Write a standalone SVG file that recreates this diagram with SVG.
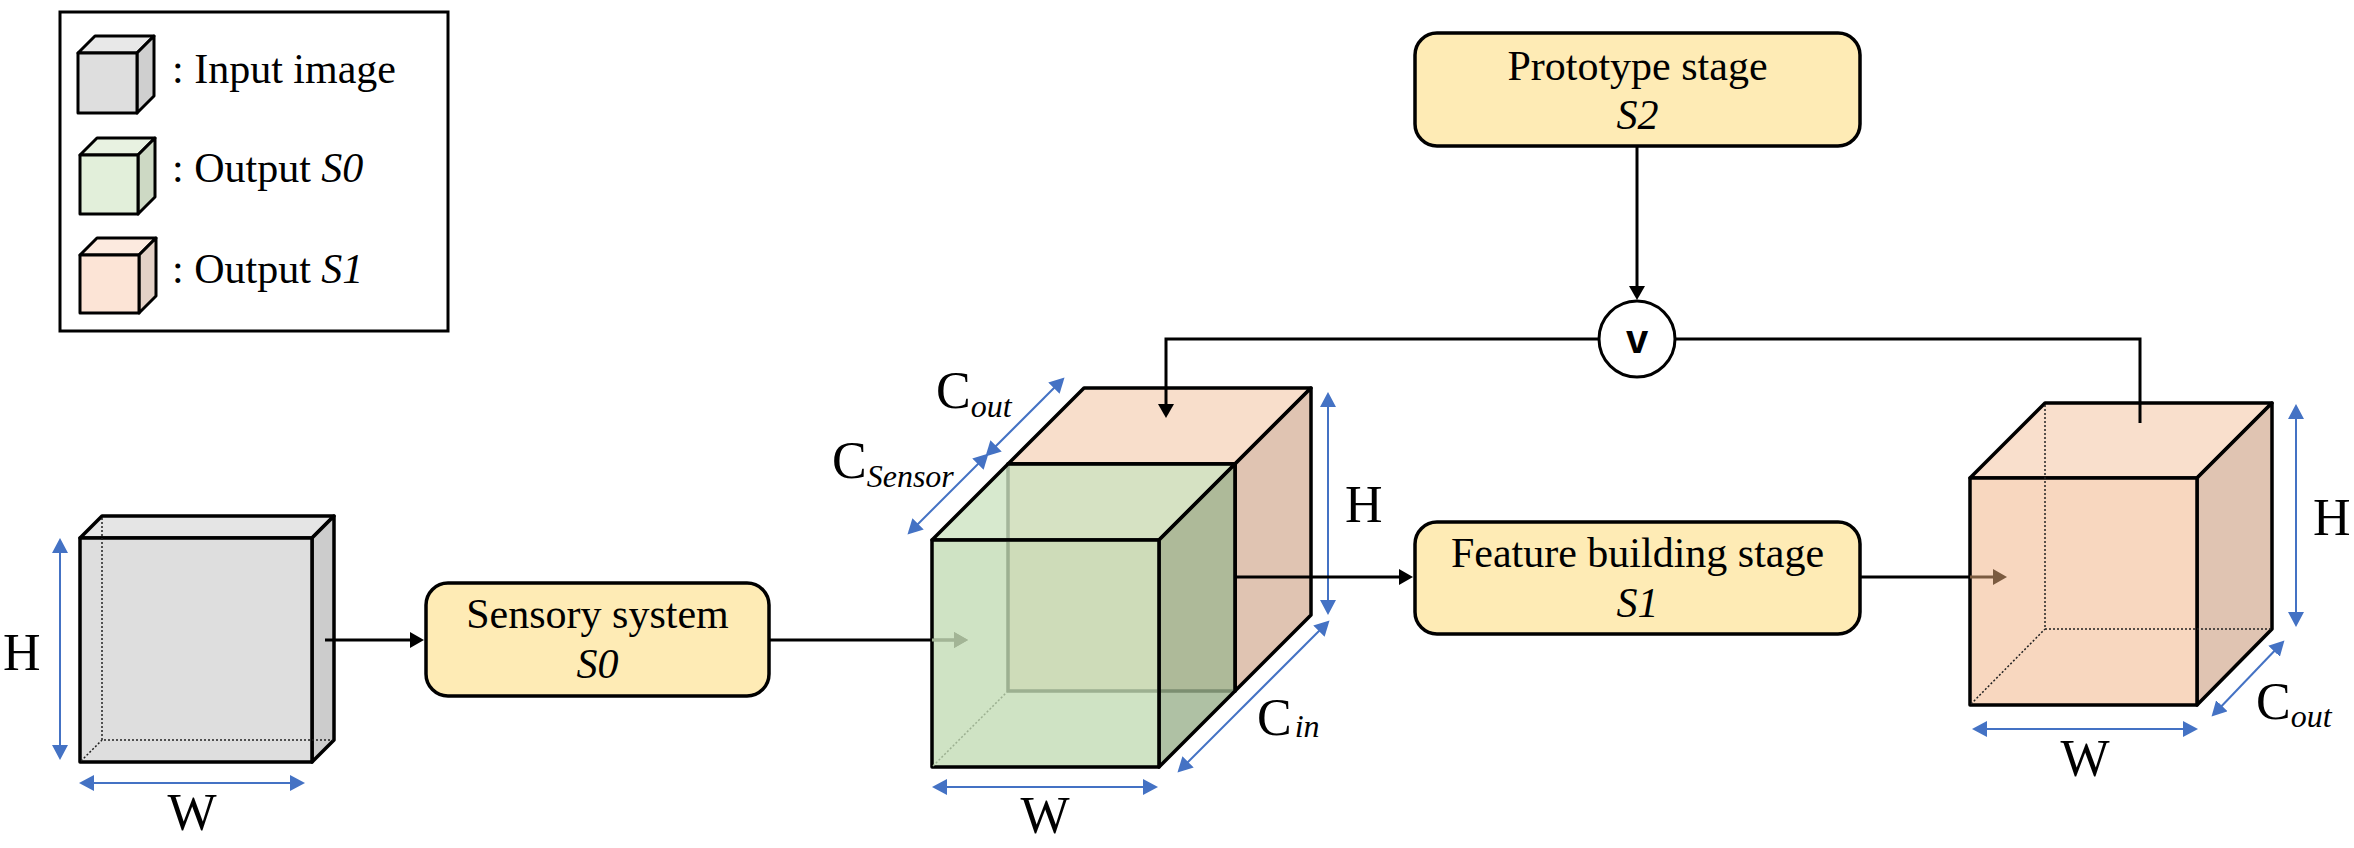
<svg xmlns="http://www.w3.org/2000/svg" width="2354" height="848" viewBox="0 0 2354 848">
<style>
  text { font-family: "Liberation Serif", "Times New Roman", serif; fill: #000; }
  .t42 { font-size: 42px; }
  .lbl { font-size: 52px; }
  .sub { font-size: 32px; font-style: italic; }
  .it { font-style: italic; }
  .edge { stroke: #000; stroke-width: 3.5; stroke-linejoin: round; }
  .ledge { stroke: #000; stroke-width: 3; stroke-linejoin: round; }
  .box { fill: #FEEBB5; stroke: #000; stroke-width: 3.5; }
  .conn { fill: none; stroke: #000; stroke-width: 3; }
  .dim { fill: none; stroke: #4472C4; stroke-width: 2; marker-start: url(#blue); marker-end: url(#blue); }
  .dot { fill: none; stroke: #222; stroke-width: 1.5; stroke-dasharray: 2 2; }
</style>
<defs>
  <marker id="blk" viewBox="0 0 14 16" refX="8" refY="8" markerWidth="14" markerHeight="16" markerUnits="userSpaceOnUse" orient="auto">
    <path d="M0,0 L14,8 L0,16 z" fill="#000"/>
  </marker>
  <marker id="fadeg" viewBox="0 0 14 16" refX="8" refY="8" markerWidth="14" markerHeight="16" markerUnits="userSpaceOnUse" orient="auto">
    <path d="M0,0 L14,8 L0,16 z" fill="#A3B596"/>
  </marker>
  <marker id="brown" viewBox="0 0 14 16" refX="8" refY="8" markerWidth="14" markerHeight="16" markerUnits="userSpaceOnUse" orient="auto">
    <path d="M0,0 L14,8 L0,16 z" fill="#7B5B40"/>
  </marker>
  <marker id="blue" viewBox="0 0 15 16" refX="10" refY="8" markerWidth="15" markerHeight="16" markerUnits="userSpaceOnUse" orient="auto-start-reverse">
    <path d="M0,0 L15,8 L0,16 z" fill="#4472C4"/>
  </marker>
</defs>
<rect width="2354" height="848" fill="#fff"/>

<g id="legend">
  <rect x="60" y="12" width="388" height="319" fill="#fff" stroke="#000" stroke-width="3"/>
  <g class="ledge">
    <polygon points="78,53 95,36 154,36 137,53" fill="#E8E8E8"/>
    <polygon points="137,53 154,36 154,96 137,113" fill="#CFCFCF"/>
    <rect x="78" y="53" width="59" height="60" fill="#DEDEDE"/>
    <polygon points="80,155 97,138 155,138 138,155" fill="#E8F2E1"/>
    <polygon points="138,155 155,138 155,197 138,214" fill="#CDD9C4"/>
    <rect x="80" y="155" width="58" height="59" fill="#E2EFDA"/>
    <polygon points="80,255 97,238 156,238 139,255" fill="#FCEADF"/>
    <polygon points="139,255 156,238 156,296 139,313" fill="#E3D1C6"/>
    <rect x="80" y="255" width="59" height="58" fill="#FCE4D6"/>
  </g>
  <text class="t42" x="172" y="83">: Input image</text>
  <text class="t42" x="172" y="182">: Output <tspan class="it">S0</tspan></text>
  <text class="t42" x="172" y="283">: Output <tspan class="it">S1</tspan></text>
</g>

<g id="input-cube">
  <g class="edge">
    <polygon points="80,538 102,516 334,516 312,538" fill="#E5E5E5"/>
    <polygon points="312,538 334,516 334,740 312,762" fill="#CCCCCC"/>
    <rect x="80" y="538" width="232" height="224" fill="#DEDEDE"/>
  </g>
  <path class="dot" d="M102,518 V740 H333 M81,761 L102,740"/>
  <line class="dim" x1="60" y1="543" x2="60" y2="755"/>
  <line class="dim" x1="84" y1="783" x2="300" y2="783"/>
  <text class="lbl" x="3" y="670">H</text>
  <text class="lbl" x="192" y="830" text-anchor="middle">W</text>
</g>

<g id="sensory">
  <rect class="box" x="426" y="583" width="343" height="113" rx="22"/>
  <text class="t42" x="597.5" y="628" text-anchor="middle">Sensory system</text>
  <text class="t42 it" x="597.5" y="678" text-anchor="middle">S0</text>
</g>

<g id="middle-cube">
  <g class="edge">
    <polygon points="1008,464 1084,388 1311,388 1235,464" fill="#F8DECB"/>
    <polygon points="1235,464 1311,388 1311,615 1235,691" fill="#E0C4B2"/>
    <rect x="1008" y="464" width="227" height="227" fill="#F8DAC5"/>
  </g>
  <line x1="769" y1="640" x2="932" y2="640" stroke="#000" stroke-width="3"/>
  <line x1="932" y1="640" x2="962" y2="640" stroke="#000" stroke-width="3" marker-end="url(#blk)"/>
  <g class="edge">
    <polygon points="932,540 1008,464 1235,464 1159,540" fill="#CDE4C2" fill-opacity="0.8"/>
    <polygon points="1159,540 1235,464 1235,691 1159,767" fill="#9BB18D" fill-opacity="0.8"/>
    <rect x="932" y="540" width="227" height="227" fill="#C3DCB5" fill-opacity="0.8"/>
  </g>
  <path d="M933,766 L1008,691" fill="none" stroke="#9CB091" stroke-width="1.5" stroke-dasharray="2 2"/>
  <line class="dim" x1="911" y1="531" x2="985" y2="457"/>
  <line class="dim" x1="989" y1="453" x2="1061" y2="381"/>
  <line class="dim" x1="1328" y1="397" x2="1328" y2="610"/>
  <line class="dim" x1="1326" y1="624" x2="1181" y2="769"/>
  <line class="dim" x1="937" y1="787" x2="1153" y2="787"/>
  <text class="lbl" x="936" y="408">C<tspan class="sub" dy="9">out</tspan></text>
  <text class="lbl" x="832" y="478">C<tspan class="sub" dy="9">Sensor</tspan></text>
  <text class="lbl" x="1345" y="522">H</text>
  <text class="lbl" x="1257" y="735">C<tspan class="sub" dx="3" dy="2">in</tspan></text>
  <text class="lbl" x="1045" y="833" text-anchor="middle">W</text>
</g>

<g id="prototype">
  <rect class="box" x="1415" y="33" width="445" height="113" rx="22"/>
  <text class="t42" x="1637.5" y="80" text-anchor="middle">Prototype stage</text>
  <text class="t42 it" x="1637.5" y="129" text-anchor="middle">S2</text>
</g>

<g id="or-node">
  <circle cx="1637" cy="339" r="38" fill="#fff" stroke="#000" stroke-width="3"/>
  <text x="1637" y="353" text-anchor="middle" style="font-family:'Liberation Sans',Arial,sans-serif;font-size:40px;font-weight:bold">v</text>
</g>

<g id="feature">
  <rect class="box" x="1415" y="522" width="445" height="112" rx="22"/>
  <text class="t42" x="1637.5" y="567" text-anchor="middle">Feature building stage</text>
  <text class="t42 it" x="1637.5" y="617" text-anchor="middle">S1</text>
</g>

<g id="output-cube">
  <g class="edge">
    <polygon points="1970,478 2045,403 2272,403 2197,478" fill="#F9DFCC"/>
    <polygon points="2197,478 2272,403 2272,629 2197,705" fill="#E0C4B2"/>
    <rect x="1970" y="478" width="227" height="227" fill="#F8D7BF"/>
  </g>
  <path class="dot" d="M2045,405 V629 H2271 M1971,704 L2045,629"/>
  <line class="dim" x1="2296" y1="409" x2="2296" y2="622"/>
  <line class="dim" x1="2281" y1="644" x2="2215" y2="713"/>
  <line class="dim" x1="1977" y1="729" x2="2193" y2="729"/>
  <text class="lbl" x="2313" y="535">H</text>
  <text class="lbl" x="2085" y="776" text-anchor="middle">W</text>
  <text class="lbl" x="2256" y="719">C<tspan class="sub" dy="8">out</tspan></text>
</g>

<g id="connectors">
  <path class="conn" d="M325,640 H418" marker-end="url(#blk)"/>
  <path d="M932,640 H962" fill="none" stroke="#A3B596" stroke-width="3" marker-end="url(#fadeg)"/>
  <path class="conn" d="M1234,577 H1407" marker-end="url(#blk)"/>
  <path class="conn" d="M1860,577 H1970"/>
  <path d="M1970,577 H2001" fill="none" stroke="#7B5B40" stroke-width="3" marker-end="url(#brown)"/>
  <path class="conn" d="M1637,146 V294" marker-end="url(#blk)"/>
  <path class="conn" d="M1599,339 H1166 V412" marker-end="url(#blk)"/>
  <path class="conn" d="M1675,339 H2140 V423"/>
</g>
</svg>
